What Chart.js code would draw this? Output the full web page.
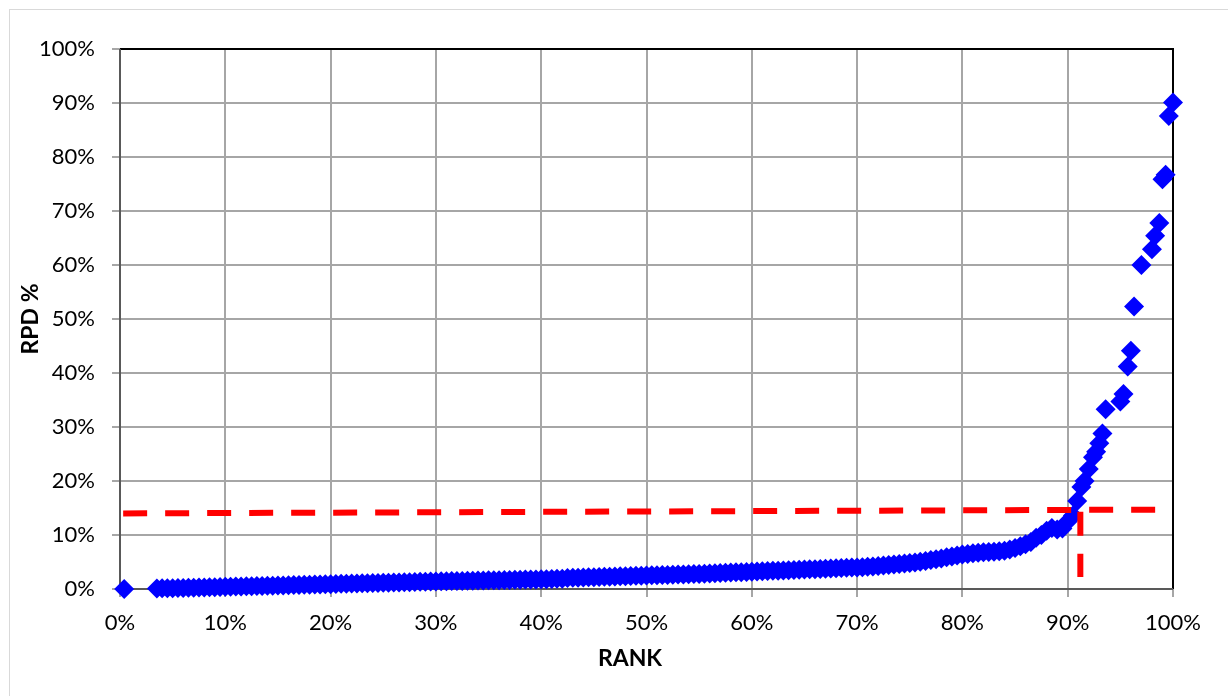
<!DOCTYPE html>
<html>
<head>
<meta charset="utf-8">
<script src="https://cdn.jsdelivr.net/npm/chart.js@4"></script>
<style>
  html, body { margin: 0; padding: 0; background: #fff; }
  #wrap { width: 1228px; height: 696px; position: relative; }
</style>
</head>
<body>
<div id="wrap"><canvas id="rpdChart" width="1228" height="696"></canvas></div>
<script>
// Pontos: [RANK %, RPD %]
const rpdPoints = [
  [0.4, 0.0],
  [3.5, 0.10], [4.0, 0.12], [4.5, 0.14], [5.0, 0.16], [5.5, 0.18], [6.0, 0.20], [6.5, 0.22], [7.0, 0.25],
  [7.5, 0.27], [8.0, 0.29], [8.5, 0.31], [9.0, 0.34], [9.5, 0.37], [10.0, 0.40],
  [10.5, 0.42], [11.0, 0.45], [11.5, 0.47], [12.0, 0.50], [12.5, 0.52], [13.0, 0.55], [13.5, 0.57], [14.0, 0.60], [14.5, 0.62], [15.0, 0.65],
  [15.5, 0.67], [16.0, 0.70], [16.5, 0.72], [17.0, 0.75], [17.5, 0.77], [18.0, 0.80], [18.5, 0.82], [19.0, 0.85], [19.5, 0.87], [20.0, 0.90],
  [20.5, 0.92], [21.0, 0.95], [21.5, 0.97], [22.0, 1.00], [22.5, 1.02], [23.0, 1.05], [23.5, 1.07], [24.0, 1.10], [24.5, 1.12], [25.0, 1.15],
  [25.5, 1.17], [26.0, 1.20], [26.5, 1.22], [27.0, 1.25], [27.5, 1.27], [28.0, 1.30], [28.5, 1.32], [29.0, 1.35], [29.5, 1.37], [30.0, 1.40],
  [30.5, 1.42], [31.0, 1.44], [31.5, 1.46], [32.0, 1.48], [32.5, 1.50], [33.0, 1.52], [33.5, 1.54], [34.0, 1.56], [34.5, 1.58], [35.0, 1.60],
  [35.5, 1.62], [36.0, 1.64], [36.5, 1.66], [37.0, 1.68], [37.5, 1.70], [38.0, 1.72], [38.5, 1.74], [39.0, 1.76], [39.5, 1.78], [40.0, 1.80],
  [40.5, 1.82], [41.0, 1.85], [41.5, 1.88], [42.0, 1.92], [42.5, 2.05], [43.0, 2.08], [43.5, 2.10], [44.0, 2.13], [44.5, 2.16], [45.0, 2.19],
  [45.5, 2.22], [46.0, 2.25], [46.5, 2.28], [47.0, 2.33], [47.5, 2.36], [48.0, 2.38], [48.5, 2.41], [49.0, 2.44], [49.5, 2.47], [50.0, 2.50],
  [50.5, 2.53], [51.0, 2.55], [51.5, 2.58], [52.0, 2.61], [52.5, 2.64], [53.0, 2.67], [53.5, 2.70], [54.0, 2.73], [54.5, 2.76], [55.0, 2.80],
  [55.5, 2.84], [56.0, 2.88], [56.5, 2.92], [57.0, 2.96], [57.5, 3.00], [58.0, 3.04], [58.5, 3.08], [59.0, 3.12], [59.5, 3.16], [60.0, 3.20],
  [60.5, 3.24], [61.0, 3.28], [61.5, 3.32], [62.0, 3.36], [62.5, 3.40], [63.0, 3.44], [63.5, 3.48], [64.0, 3.52], [64.5, 3.56], [65.0, 3.60],
  [65.5, 3.64], [66.0, 3.68], [66.5, 3.72], [67.0, 3.76], [67.5, 3.80], [68.0, 3.84], [68.5, 3.88], [69.0, 3.92], [69.5, 3.96], [70.0, 4.00],
  [70.5, 4.05], [71.0, 4.10], [71.5, 4.16], [72.0, 4.25], [72.5, 4.35], [73.0, 4.45], [73.5, 4.55], [74.0, 4.62], [74.5, 4.70], [75.0, 4.80],
  [75.5, 4.90], [76.0, 5.05], [76.5, 5.20], [77.0, 5.35], [77.5, 5.50], [78.0, 5.65], [78.5, 5.90], [79.0, 6.00], [79.5, 6.20], [80.0, 6.40],
  [80.5, 6.50], [81.0, 6.60], [81.5, 6.70], [82.0, 6.80], [82.5, 6.85], [83.0, 6.90], [83.5, 7.00], [84.0, 7.10], [84.5, 7.30], [85.0, 7.60],
  [85.5, 7.90], [86.0, 8.30], [86.5, 8.70], [87.0, 9.50], [87.5, 10.0], [88.0, 10.8], [88.5, 11.3], [89.0, 11.0], [89.5, 11.2], [90.0, 12.5],
  [90.5, 13.6], [90.9, 16.3], [91.3, 18.9], [91.6, 20.0], [92.0, 22.2], [92.4, 24.4], [92.7, 25.4], [93.0, 27.0], [93.3, 28.8], [93.6, 33.3],
  [95.0, 34.7], [95.3, 36.1], [95.7, 41.2], [96.0, 44.1], [96.3, 52.3], [97.0, 60.0], [98.0, 62.9], [98.3, 65.4], [98.7, 67.8],
  [99.0, 75.9], [99.3, 76.7], [99.6, 87.6], [100.0, 90.1]
];

// Linhas de corte (vermelhas tracejadas)
const cutoffRpd = [[0.3, 14.0], [98.5, 14.7]];
const cutoffRank = [[91.2, 14.3], [91.2, 2.2]];

// Rótulos dos eixos
const axisTicks = [0, 10, 20, 30, 40, 50, 60, 70, 80, 90, 100];
const xTitle = 'RANK';
const yTitle = 'RPD %';

const fontFamily = 'Lato, "Open Sans", sans-serif';

// Desenha moldura externa, borda da área do gráfico e títulos dos eixos
const framePlugin = {
  id: 'frame',
  beforeDraw(chart) {
    const ctx = chart.ctx;
    ctx.save();
    ctx.strokeStyle = '#d9d9d9';
    ctx.lineWidth = 1;
    ctx.strokeRect(9.5, 9.5, 1240, 700);
    ctx.restore();
  },
  beforeDatasetsDraw(chart) {
    const { ctx, chartArea: a } = chart;
    ctx.save();
    ctx.lineWidth = 2;
    ctx.strokeStyle = '#000';
    ctx.beginPath();
    ctx.moveTo(a.left, a.top);
    ctx.lineTo(a.right, a.top);
    ctx.lineTo(a.right, a.bottom);
    ctx.stroke();
    ctx.strokeStyle = '#595959';
    ctx.beginPath();
    ctx.moveTo(a.left, a.top);
    ctx.lineTo(a.left, a.bottom);
    ctx.lineTo(a.right, a.bottom);
    ctx.stroke();
    ctx.restore();
  },
  afterDraw(chart) {
    const { ctx, chartArea: a } = chart;
    ctx.save();
    ctx.fillStyle = '#000';
    ctx.font = 'bold 23px ' + fontFamily;
    ctx.textAlign = 'center';
    ctx.textBaseline = 'middle';
    ctx.fillText(xTitle, 630, 659);
    ctx.translate(31, (a.top + a.bottom) / 2);
    ctx.rotate(-Math.PI / 2);
    ctx.fillText(yTitle, 0, 0);
    ctx.restore();
  }
};

const axisCommon = {
  type: 'linear',
  min: 0,
  max: 100,
  afterBuildTicks: scale => { scale.ticks = axisTicks.map(v => ({ value: v })); },
  ticks: {
    callback: v => v + '%',
    color: '#000',
    font: { family: fontFamily, size: 22 }
  },
  grid: { color: '#a6a6a6', lineWidth: 2, tickLength: 8 },
  border: { display: false }
};

const ctx = document.getElementById('rpdChart').getContext('2d');
new Chart(ctx, {
  type: 'scatter',
  data: {
    datasets: [
      {
        label: 'RPD',
        data: rpdPoints.map(p => ({ x: p[0], y: p[1] })),
        pointStyle: 'rectRot',
        pointRadius: 10,
        pointBackgroundColor: '#0000ff',
        pointBorderWidth: 0,
        showLine: false,
        clip: false,
        order: 2
      },
      {
        label: 'corte RPD',
        data: cutoffRpd.map(p => ({ x: p[0], y: p[1] })),
        showLine: true,
        borderColor: '#ff0000',
        borderWidth: 6,
        borderDash: [24, 18],
        pointRadius: 0,
        order: 1
      },
      {
        label: 'corte RANK',
        data: cutoffRank.map(p => ({ x: p[0], y: p[1] })),
        showLine: true,
        borderColor: '#ff0000',
        borderWidth: 6,
        borderDash: [24, 18],
        pointRadius: 0,
        order: 1
      }
    ]
  },
  options: {
    responsive: false,
    animation: false,
    devicePixelRatio: 1,
    layout: { padding: { left: 0, top: 49, right: 55, bottom: 0 } },
    plugins: {
      legend: { display: false },
      tooltip: { enabled: false }
    },
    scales: {
      x: Object.assign({}, axisCommon, {
        ticks: Object.assign({}, axisCommon.ticks, { padding: 13, maxRotation: 0 }),
        afterFit: scale => { scale.height = 107; }
      }),
      y: Object.assign({}, axisCommon, {
        ticks: Object.assign({}, axisCommon.ticks, { padding: 17 }),
        afterFit: scale => { scale.width = 120; }
      })
    }
  },
  plugins: [framePlugin]
});
</script>
</body>
</html>
